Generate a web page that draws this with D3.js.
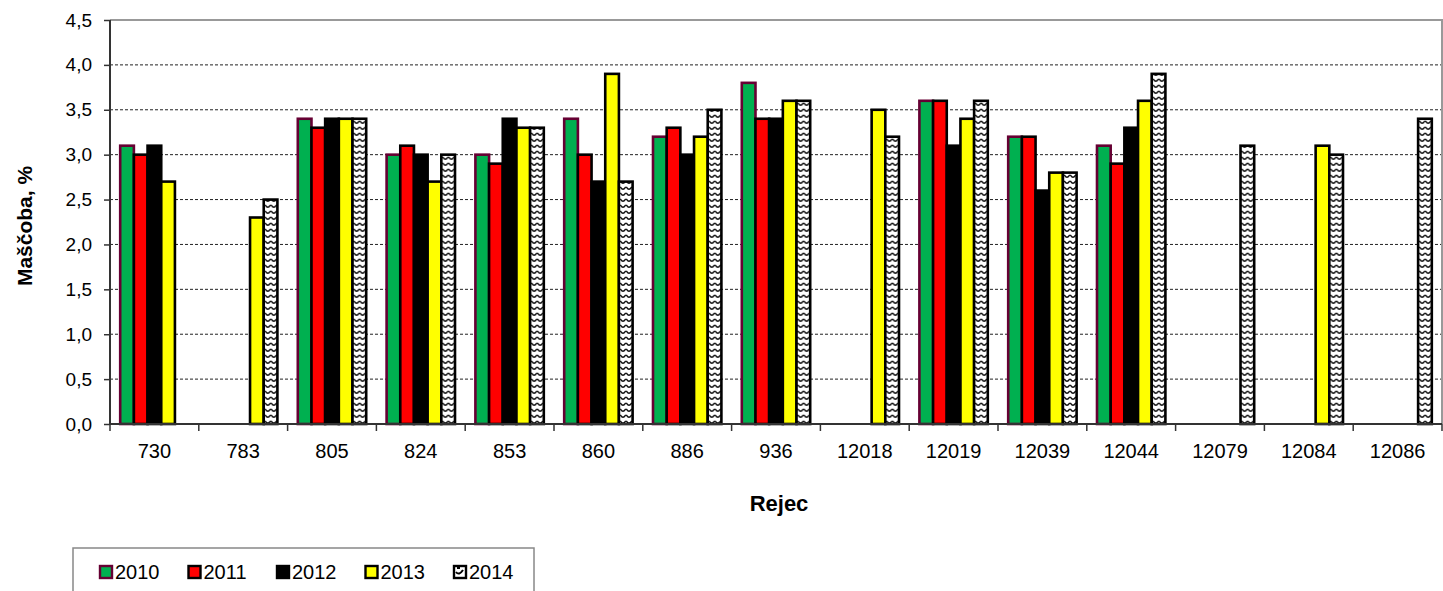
<!DOCTYPE html>
<html>
<head>
<meta charset="utf-8">
<script src="https://cdn.jsdelivr.net/npm/d3@7/dist/d3.min.js"></script>
<style>
  html, body { margin: 0; padding: 0; background: #fff; }
  svg { display: block; font-family: "Liberation Sans", Arial, sans-serif; }
</style>
</head>
<body>
<svg id="chart" width="1443" height="591"></svg>
<script>
// Fat content (%) per cow and year
const cows = ["730", "783", "805", "824", "853", "860", "886", "936",
              "12018", "12019", "12039", "12044", "12079", "12084", "12086"];
const years = ["2010", "2011", "2012", "2013", "2014"];
const v2010 = [3.1, null, 3.4, 3.0, 3.0, 3.4, 3.2, 3.8, null, 3.6, 3.2, 3.1, null, null, null];
const v2011 = [3.0, null, 3.3, 3.1, 2.9, 3.0, 3.3, 3.4, null, 3.6, 3.2, 2.9, null, null, null];
const v2012 = [3.1, null, 3.4, 3.0, 3.4, 2.7, 3.0, 3.4, null, 3.1, 2.6, 3.3, null, null, null];
const v2013 = [2.7, 2.3, 3.4, 2.7, 3.3, 3.9, 3.2, 3.6, 3.5, 3.4, 2.8, 3.6, null, 3.1, null];
const v2014 = [null, 2.5, 3.4, 3.0, 3.3, 2.7, 3.5, 3.6, 3.2, 3.6, 2.8, 3.9, 3.1, 3.0, 3.4];
const seriesValues = [v2010, v2011, v2012, v2013, v2014];
const yTicks = [0, 0.5, 1.0, 1.5, 2.0, 2.5, 3.0, 3.5, 4.0, 4.5];

const fills = ["#00b050", "#ff0000", "#000000", "#ffff00", "url(#scales)"];
const strokes = ["#660033", "#000000", "#000000", "#000000", "#000000"];

const svg = d3.select("#chart");
const plot = { left: 110, right: 1442, top: 20, bottom: 424 };

// scale-like hatch used for the 2014 series
const defs = svg.append("defs");
const pat = defs.append("pattern")
  .attr("id", "scales").attr("patternUnits", "userSpaceOnUse")
  .attr("width", 6).attr("height", 6);
pat.append("rect").attr("width", 6).attr("height", 6).attr("fill", "#fff");
pat.append("path")
  .attr("d", "M0.3,0.8 Q3,5.6 5.7,0.8")
  .attr("fill", "none").attr("stroke", "#111").attr("stroke-width", 1.4);

const x0 = d3.scaleBand().domain(cows).range([plot.left, plot.right]).padding(0);
const step = x0.bandwidth();
const x1 = d3.scaleBand().domain(years).range([10.2, step - 10.2]).padding(0);
const y = d3.scaleLinear().domain([0, 4.5]).range([plot.bottom, plot.top]);

const fmt = d => d3.format(".1f")(d).replace(".", ",");

// horizontal dashed grid
svg.append("g").selectAll("line")
  .data(yTicks.filter(t => t > 0 && t < 4.5))
  .join("line")
  .attr("x1", plot.left).attr("x2", plot.right)
  .attr("y1", d => y(d)).attr("y2", d => y(d))
  .attr("stroke", "#222").attr("stroke-width", 1)
  .attr("stroke-dasharray", "3,2");

// plot frame (top and right edges)
svg.append("path")
  .attr("d", `M${plot.left},${y(4.5)}H${plot.right}V${plot.bottom}`)
  .attr("fill", "none").attr("stroke", "#999").attr("stroke-width", 2);

// bars
const groups = svg.append("g").selectAll("g")
  .data(cows)
  .join("g")
  .attr("transform", d => `translate(${x0(d)},0)`);

groups.selectAll("rect")
  .data((c, ci) => years.map((yr, si) => ({ yr, si, v: seriesValues[si][ci] })).filter(d => d.v != null))
  .join("rect")
  .attr("x", d => x1(d.yr))
  .attr("width", x1.bandwidth())
  .attr("y", d => y(d.v))
  .attr("height", d => y(0) - y(d.v))
  .attr("fill", d => fills[d.si])
  .attr("stroke", d => strokes[d.si])
  .attr("stroke-width", 2.6);

// y axis
const yAxis = svg.append("g")
  .attr("transform", `translate(${plot.left},0)`)
  .call(d3.axisLeft(y).tickValues(yTicks).tickFormat(fmt).tickSize(6).tickPadding(12));
yAxis.select(".domain").attr("stroke", "#333").attr("stroke-width", 2).attr("d", `M0,${plot.bottom}V${plot.top}`);
yAxis.selectAll(".tick line").attr("stroke", "#333").attr("stroke-width", 1.5);
yAxis.selectAll("text").attr("font-size", 19).attr("fill", "#000")
  .attr("font-family", "Liberation Sans, Arial, sans-serif");

// x axis with ticks on category boundaries
const xAxisG = svg.append("g").attr("transform", `translate(0,${plot.bottom})`);
xAxisG.append("line").attr("x1", plot.left).attr("x2", plot.right)
  .attr("stroke", "#333").attr("stroke-width", 2);
xAxisG.selectAll(".bt")
  .data(cows.map(c => x0(c)).concat([plot.right]))
  .join("line")
  .attr("x1", d => d).attr("x2", d => d)
  .attr("y1", 0).attr("y2", 7)
  .attr("stroke", "#333").attr("stroke-width", 1.5);
xAxisG.selectAll("text")
  .data(cows)
  .join("text")
  .attr("x", d => x0(d) + step / 2)
  .attr("y", 34)
  .attr("text-anchor", "middle")
  .attr("font-size", 20)
  .text(d => d);

// axis titles
svg.append("text")
  .attr("transform", "translate(32,226) rotate(-90)")
  .attr("text-anchor", "middle")
  .attr("font-size", 21).attr("font-weight", "bold")
  .text("Maščoba, %");
svg.append("text")
  .attr("x", 779).attr("y", 511)
  .attr("text-anchor", "middle")
  .attr("font-size", 22).attr("font-weight", "bold")
  .text("Rejec");

// legend
const legend = svg.append("g");
legend.append("rect")
  .attr("x", 73).attr("y", 548).attr("width", 461).attr("height", 60)
  .attr("fill", "#fff").attr("stroke", "#888").attr("stroke-width", 1.5);
const items = legend.selectAll("g.item")
  .data(years)
  .join("g")
  .attr("transform", (d, i) => `translate(${100 + i * 88.5},566)`);
items.append("rect")
  .attr("width", 12).attr("height", 12)
  .attr("fill", (d, i) => i === 4 ? "#fff" : fills[i])
  .attr("stroke", (d, i) => strokes[i]).attr("stroke-width", 2.4);
items.filter((d, i) => i === 4).append("path")
  .attr("d", "M2,6 Q5,10 9,4 M3,2 L6,2")
  .attr("fill", "none").attr("stroke", "#000").attr("stroke-width", 2);
items.append("text")
  .attr("x", 15).attr("y", 12.5)
  .attr("font-size", 20)
  .text(d => d);
</script>
</body>
</html>
